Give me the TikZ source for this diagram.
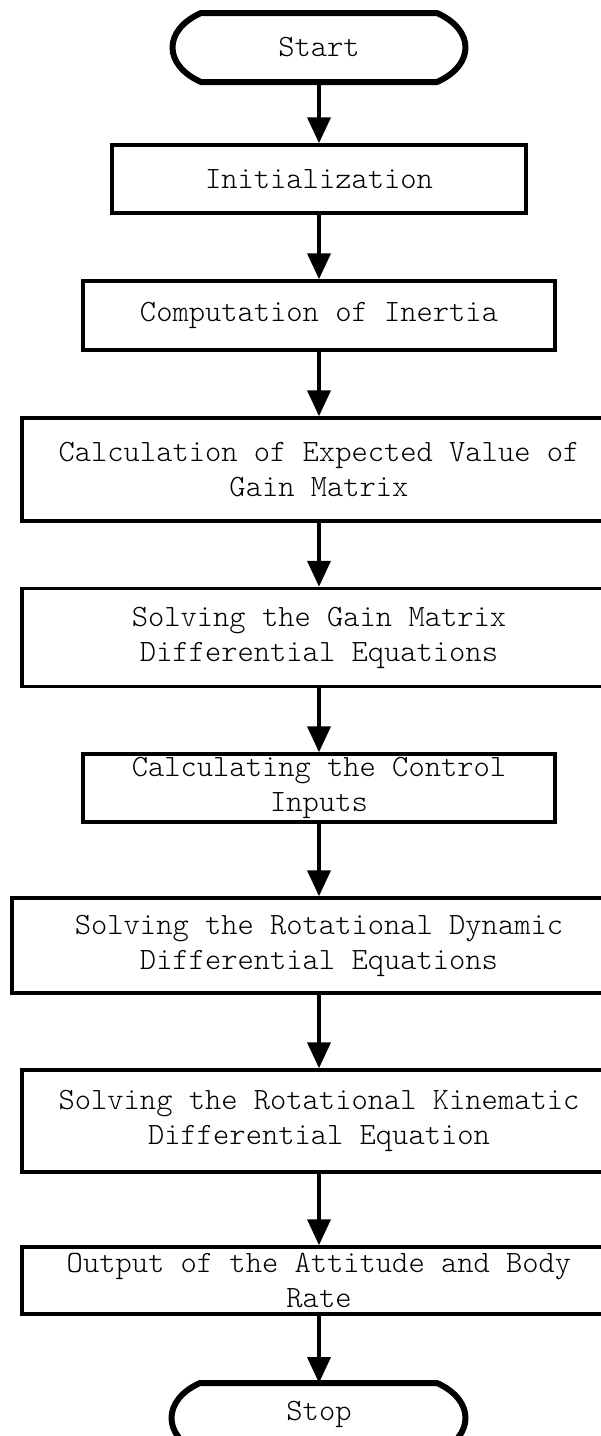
\documentclass[tikz,border=0pt]{standalone}
\usepackage{fontspec}
\IfFontExistsTF{Latin Modern Mono Light}
  {\newfontfamily\flowfont{Latin Modern Mono Light}}
  {\newcommand\flowfont{\ttfamily}}
\usetikzlibrary{arrows.meta}
\begin{document}
\begin{tikzpicture}[x=1pt,y=-1pt,
  txt/.style={align=center, inner sep=0pt, font=\flowfont\fontsize{31}{35}\selectfont},
  box/.style={txt, draw, line width=3.5pt, rectangle},
  flow/.style={line width=4pt, -{Triangle[width=23pt,length=26pt]}},
  term/.style={draw, line width=6pt, line join=round}]
\useasboundingbox (0,0) rectangle (601,1436);
\clip (0,0) rectangle (601,1436);
\fill[white] (0,0) rectangle (601,1436);

% terminals
\draw[term] (203,13) -- (437,13) .. controls (475,30) and (475,65) .. (437,82)
  -- (201,82) .. controls (163,65) and (163,30) .. (201,13) -- cycle;
\node[txt, minimum width=290pt, minimum height=69pt] (start) at (319,47.5) {Start};

\draw[term] (200,1383) -- (437,1383) .. controls (475,1400) and (475,1436) .. (437,1453)
  -- (200,1453) .. controls (162,1436) and (162,1400) .. (200,1383) -- cycle;
\node[txt, minimum width=290pt, minimum height=70pt] (stop) at (319,1418) {};
\node[txt] (stoptext) at (319,1414) {Stop};
\coordinate (stoptop) at (319,1383);

% process boxes
\node[box, minimum width=414pt, minimum height=68pt] (init) at (319,179) {Initialization};
\node[box, minimum width=472pt, minimum height=69pt] (inertia) at (319,315.5) {Computation of Inertia};
\node[box, minimum width=594pt, minimum height=103pt] (calc) at (319,469.5) {Calculation of Expected Value of\\Gain Matrix};
\node[box, minimum width=594pt, minimum height=98pt] (gain) at (319,637.5) {Solving the Gain Matrix\\Differential Equations};
\node[box, minimum width=472pt, minimum height=68pt] (ctrl) at (319,788) {Calculating the Control\\Inputs};
\node[box, minimum width=614pt, minimum height=95pt] (dyn) at (319,945.5) {Solving the Rotational Dynamic\\Differential Equations};
\node[box, minimum width=594pt, minimum height=102pt] (kin) at (319,1121) {Solving the Rotational Kinematic\\Differential Equation};
\node[box, minimum width=594pt, minimum height=67pt] (out) at (319,1280.5) {Output of the Attitude and Body\\Rate};

% connectors
\draw[flow] (start.south) -- (init.north);
\draw[flow] (init.south) -- (inertia.north);
\draw[flow] (inertia.south) -- (calc.north);
\draw[flow] (calc.south) -- (gain.north);
\draw[flow] (gain.south) -- (ctrl.north);
\draw[flow] (ctrl.south) -- (dyn.north);
\draw[flow] (dyn.south) -- (kin.north);
\draw[flow] (kin.south) -- (out.north);
\draw[flow] (out.south) -- (stoptop);
\end{tikzpicture}
\end{document}
